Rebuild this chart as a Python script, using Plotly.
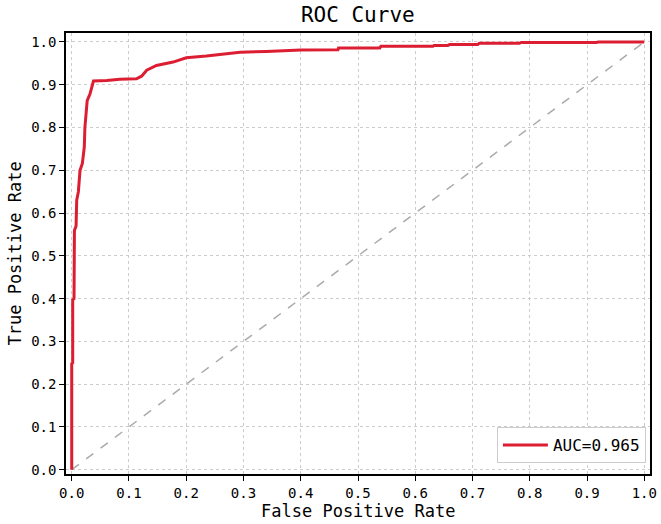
import plotly.graph_objects as go

fpr = [0.0, 0.0, 0.0017, 0.0017, 0.004, 0.004, 0.0047, 0.0076, 0.0087, 0.0116, 0.0145, 0.0186,
       0.022, 0.023, 0.025, 0.027, 0.032, 0.038, 0.061, 0.084, 0.113, 0.122, 0.131, 0.148,
       0.177, 0.2, 0.235, 0.265, 0.294, 0.34, 0.40, 0.465, 0.466, 0.538, 0.54, 0.631,
       0.633, 0.657, 0.66, 0.709, 0.712, 0.782, 0.785, 0.916, 0.92, 1.0]
tpr = [0.0, 0.248, 0.25, 0.397, 0.40, 0.526, 0.559, 0.57, 0.63, 0.65, 0.70, 0.716,
       0.755, 0.80, 0.84, 0.863, 0.879, 0.909, 0.91, 0.913, 0.914, 0.92, 0.934, 0.945,
       0.953, 0.963, 0.967, 0.971, 0.976, 0.978, 0.981, 0.982, 0.986, 0.986, 0.990, 0.990,
       0.992, 0.992, 0.994, 0.994, 0.997, 0.997, 0.999, 0.999, 1.0, 1.0]
auc_label = "AUC=0.965"
ticks = [0.0, 0.1, 0.2, 0.3, 0.4, 0.5, 0.6, 0.7, 0.8, 0.9, 1.0]
tick_text = ["0.0", "0.1", "0.2", "0.3", "0.4", "0.5", "0.6", "0.7", "0.8", "0.9", "1.0"]

FONT = "DejaVu Sans Mono"

fig = go.Figure()
fig.add_trace(go.Scatter(x=[0, 1], y=[0, 1], mode="lines",
                         line=dict(color="#aaaaaa", width=1.5, dash="dash"),
                         showlegend=False, hoverinfo="skip"))
fig.add_trace(go.Scatter(x=fpr, y=tpr, mode="lines", name=auc_label,
                         line=dict(color="#dc1e32", width=3)))

axis_common = dict(
    tickvals=ticks, ticktext=tick_text, ticks="outside", ticklen=5, tickwidth=1.2,
    tickcolor="black", showline=True, linecolor="black", linewidth=1.5, mirror=True,
    showgrid=True, gridcolor="#cccccc", griddash="dot", gridwidth=1, zeroline=False,
    automargin=False, tickfont=dict(family=FONT, size=14, color="black"),
)

fig.update_layout(
    width=661, height=524,
    margin=dict(l=66, r=11, t=33, b=50),
    paper_bgcolor="white", plot_bgcolor="white",
    title=dict(text="ROC Curve", x=0.5413, xanchor="center", xref="container",
               y=1 - 15 / 524, yref="container", yanchor="middle",
               font=dict(family=FONT, size=21, color="black")),
    xaxis=dict(range=[-0.01, 1.01], **axis_common),
    yaxis=dict(range=[-0.01, 1.021], **axis_common),
    legend=dict(x=0.993, y=0.025, xanchor="right", yanchor="bottom",
                bordercolor="#cccccc", borderwidth=1, bgcolor="white",
                itemwidth=45,
                font=dict(family=FONT, size=16, color="black")),
    showlegend=True,
    annotations=[
        dict(text="False Positive Rate", xref="paper", yref="paper", x=0.5, y=-0.085,
             xanchor="center", yanchor="middle", showarrow=False,
             font=dict(family=FONT, size=17, color="black")),
        dict(text="True Positive Rate", xref="paper", yref="paper", x=-0.089, y=0.5,
             xanchor="center", yanchor="middle", showarrow=False, textangle=-90,
             font=dict(family=FONT, size=17, color="black")),
    ],
)

fig.write_html("out.html", config={"displayModeBar": False},
               post_script="document.body.style.margin='0';")
